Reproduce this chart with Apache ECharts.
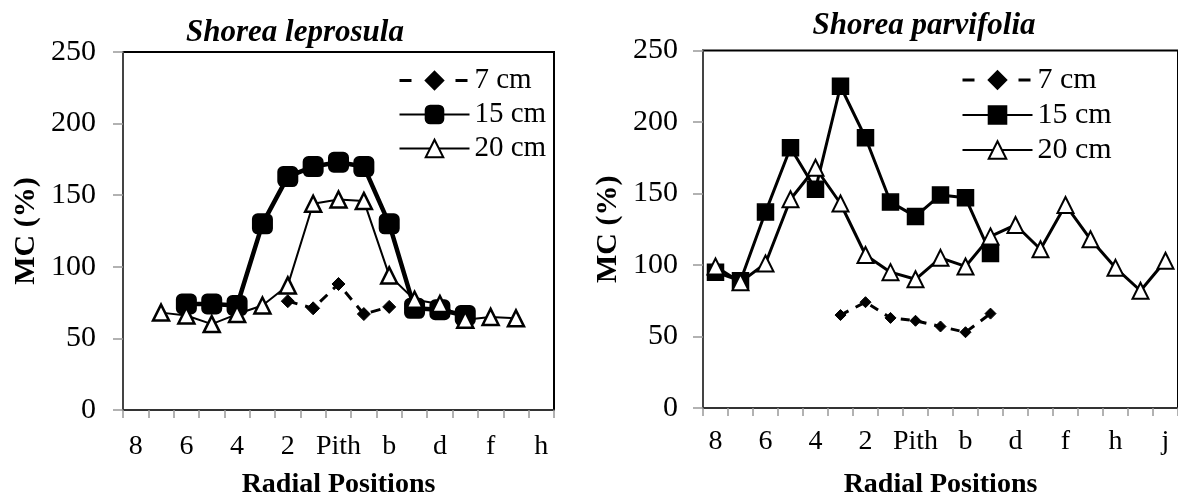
<!DOCTYPE html>
<html><head><meta charset="utf-8">
<script src="https://cdn.jsdelivr.net/npm/echarts@6/dist/echarts.min.js"></script>
<style>html,body{margin:0;padding:0;background:#fff}#c{width:1178px;height:504px}</style>
</head><body><div id="c"></div>
<script>
// categories (radial positions)
const catsL = ['8','7','6','5','4','3','2','1','Pith','a','b','c','d','e','f','g','h'];
const catsR = ['8','7','6','5','4','3','2','1','Pith','a','b','c','d','e','f','g','h','i','j'];
// Shorea leprosula MC (%)
const L7  = [null,null,null,null,null,null,76,71,88,67,72,null,null,null,null,null,null];
const L15 = [null,null,74,74,73,130,163,170,173,170,130,71,70,66,null,null,null];
const L20 = [null,68,66,60,67,73,87,144,147,146,94,77,74,63,65,64,null];
// Shorea parvifolia MC (%)
const R7  = [null,null,null,null,null,65,74,63,61,57,53,66,null,null,null,null,null,null,null];
const R15 = [95,89,137,182,153,225,189,144,134,149,147,108,null,null,null,null,null,null,null];
const R20 = [99,88,101,146,168,143,107,95,90,105,99,120,128,111,142,118,98,82,103];
const seriesNames = ['7 cm','15 cm','20 cm'];
const titles = ['Shorea leprosula','Shorea parvifolia'];

const FONT = '"Liberation Serif", "Times New Roman", serif';
const chart = echarts.init(document.getElementById('c'));

function xAxis(idx, cats, nameGap, labelMargin) {
  return {
    type: 'category', gridIndex: idx, data: cats, boundaryGap: true,
    name: 'Radial Positions', nameLocation: 'middle', nameGap: nameGap,
    nameTextStyle: {fontFamily: FONT, fontWeight: 'bold', fontSize: 28, color: '#000'},
    axisLine: {show: true, lineStyle: {color: '#333', width: 2}},
    axisTick: {show: true, interval: 0, length: 8, lineStyle: {color: '#999', width: 1.5}},
    axisLabel: {interval: 1, margin: labelMargin, fontFamily: FONT, fontSize: 28, color: '#000'},
    splitLine: {show: false}
  };
}
function yAxis(idx, nameGap, labelMargin) {
  return {
    type: 'value', gridIndex: idx, min: 0, max: 250, interval: 50,
    name: 'MC (%)', nameLocation: 'middle', nameGap: nameGap,
    nameTextStyle: {fontFamily: FONT, fontWeight: 'bold', fontSize: 30, color: '#000'},
    axisLine: {show: true, lineStyle: {color: '#444', width: 2}},
    axisTick: {show: true, length: 10, lineStyle: {color: '#999', width: 1.5}},
    axisLabel: {margin: labelMargin, fontFamily: FONT, fontSize: 30, color: '#000'},
    splitLine: {show: false}
  };
}
function legendData(prefix) {
  return [
    {name: prefix + seriesNames[0], lineStyle: {type: [12, 16], width: 3}},
    {name: prefix + seriesNames[1]},
    {name: prefix + seriesNames[2]}
  ];
}

const option = {
  backgroundColor: '#fff',
  animation: false,
  title: [
    {text: titles[0], left: 290, top: 12, textAlign: 'center',
     textStyle: {fontFamily: FONT, fontWeight: 'bold', fontStyle: 'italic', fontSize: 31, color: '#000'}},
    {text: titles[1], left: 919, top: 5, textAlign: 'center',
     textStyle: {fontFamily: FONT, fontWeight: 'bold', fontStyle: 'italic', fontSize: 31, color: '#000'}}
  ],
  grid: [
    {left: 123, top: 52, right: 624, bottom: 86, show: true, borderColor: '#000', borderWidth: 2, containLabel: false},
    {left: 703, top: 50.5, right: -3, bottom: 91, show: true, borderColor: '#000', borderWidth: 2, containLabel: false}
  ],
  legend: [
    {orient: 'vertical', left: 393, top: 61, itemWidth: 70, itemHeight: 22, itemGap: 5,
     data: legendData('L|'), formatter: n => n.split('|')[1],
     textStyle: {fontFamily: FONT, fontSize: 29, color: '#000'}},
    {orient: 'vertical', left: 956, top: 60, itemWidth: 70, itemHeight: 22, itemGap: 5,
     data: legendData('R|'), formatter: n => n.split('|')[1],
     textStyle: {fontFamily: FONT, fontSize: 30, color: '#000'}}
  ],
  xAxis: [xAxis(0, catsL, 61, 23), xAxis(1, catsR, 63, 20)],
  yAxis: [yAxis(0, 82, 27), yAxis(1, 80, 25)],
  series: [
    {name: 'L|' + seriesNames[0], type: 'line', xAxisIndex: 0, yAxisIndex: 0, data: L7, showAllSymbol: true,
     lineStyle: {color: '#000', width: 3, type: [10, 8]}, symbol: 'diamond', symbolSize: 13,
     itemStyle: {color: '#000', borderColor: '#000', borderWidth: 1}},
    {name: 'L|' + seriesNames[1], type: 'line', xAxisIndex: 0, yAxisIndex: 0, data: L15, showAllSymbol: true,
     lineStyle: {color: '#000', width: 4.5}, symbol: 'roundRect', symbolSize: 19,
     itemStyle: {color: '#000', borderColor: '#000', borderWidth: 2}},
    {name: 'L|' + seriesNames[2], type: 'line', xAxisIndex: 0, yAxisIndex: 0, data: L20, showAllSymbol: true,
     lineStyle: {color: '#000', width: 2}, symbol: 'triangle', symbolSize: 16,
     itemStyle: {color: '#fff', borderColor: '#000', borderWidth: 2.5}},
    {name: 'R|' + seriesNames[0], type: 'line', xAxisIndex: 1, yAxisIndex: 1, data: R7, showAllSymbol: true,
     lineStyle: {color: '#000', width: 3, type: [9, 8]}, symbol: 'diamond', symbolSize: 11,
     itemStyle: {color: '#000', borderColor: '#000', borderWidth: 1}},
    {name: 'R|' + seriesNames[1], type: 'line', xAxisIndex: 1, yAxisIndex: 1, data: R15, showAllSymbol: true,
     lineStyle: {color: '#000', width: 3}, symbol: 'rect', symbolSize: 16,
     itemStyle: {color: '#000', borderColor: '#000', borderWidth: 1.5}},
    {name: 'R|' + seriesNames[2], type: 'line', xAxisIndex: 1, yAxisIndex: 1, data: R20, showAllSymbol: true,
     lineStyle: {color: '#000', width: 3}, symbol: 'triangle', symbolSize: 16,
     itemStyle: {color: '#fff', borderColor: '#000', borderWidth: 2}}
  ]
};
chart.setOption(option);
</script>
</body></html>
